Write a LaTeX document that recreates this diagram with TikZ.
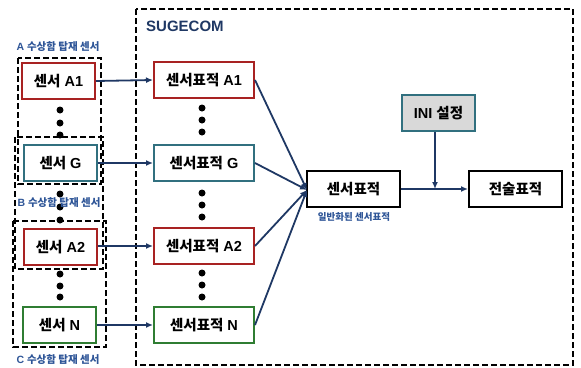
\documentclass[tikz,border=0pt]{standalone}
\usepackage{fontspec}
\setmainfont{Liberation Sans}
\newfontfamily\kr{Noto Sans CJK KR}[BoldFont={Noto Sans CJK KR Black}]
\usetikzlibrary{arrows.meta}
\definecolor{redline}{HTML}{A82222}
\definecolor{tealline}{HTML}{31707F}
\definecolor{greenline}{HTML}{2F7D32}
\definecolor{navy}{HTML}{1F3864}
\definecolor{labelblue}{HTML}{2E5597}
\definecolor{inifill}{HTML}{D9D9D9}
\begin{document}
\begin{tikzpicture}[x=1pt,y=-1pt,
  box/.style={draw, line width=2pt, fill=white, rectangle, inner sep=0pt,
    minimum height=36pt, font=\fontsize{14.5}{16}\selectfont\bfseries},
  sbox/.style={box, minimum width=73pt},
  tbox/.style={box, minimum width=100pt},
  wbox/.style={box, minimum width=93pt, draw=black},
  grp/.style={draw=black, line width=2pt, dash pattern=on 6pt off 3pt},
  conn/.style={draw=navy, line width=1.8pt, -{Latex[length=7pt,width=6pt]}},
  dot/.style={circle, fill=black, inner sep=0pt, minimum size=7pt},
  glabel/.style={text=labelblue, font=\fontsize{10.5}{12}\selectfont\bfseries, inner sep=0pt}
]
\useasboundingbox (0,0) rectangle (581,367);

% SUGECOM frame
\draw[grp] (136,9) rectangle (573,365);
\node[anchor=west, text=navy, font=\fontsize{15}{17}\selectfont\bfseries, inner sep=0pt] (title) at (146,26) {SUGECOM};

% sensor group frames
\draw[grp] (18,58) rectangle (101,184);
\draw[grp] (15,137) rectangle (103,269);
\draw[grp] (13,221) rectangle (106,347);

\node[glabel] (la) at (58,47) {A {\kr 수상함 탑재 센서}};
\node[glabel] (lc) at (58,360) {C {\kr 수상함 탑재 센서}};

% dots in the sensor column
\foreach \y in {110,123,135} \node[dot] at (60,\y) {};
\foreach \y in {194,207,220} \node[dot] at (60,\y) {};
\foreach \y in {274,286,297} \node[dot] at (60,\y) {};
\node[glabel] (lb) at (59,203) {B {\kr 수상함 탑재 센서}};

% sensors
\node[sbox, draw=redline]   (s1) at (58.5,81)  {{\kr 센서} A1};
\node[sbox, draw=tealline]  (sg) at (60.5,163) {{\kr 센서} G};
\node[sbox, draw=redline]   (s2) at (60.5,247) {{\kr 센서} A2};
\node[sbox, draw=greenline] (sn) at (59.5,325) {{\kr 센서} N};

% sensor tracks
\node[tbox, draw=redline]   (t1) at (204,80)  {{\kr 센서표적} A1};
\node[tbox, draw=tealline]  (tg) at (204,163) {{\kr 센서표적} G};
\node[tbox, draw=redline]   (t2) at (204,246) {{\kr 센서표적} A2};
\node[tbox, draw=greenline] (tn) at (204,325) {{\kr 센서표적} N};

\foreach \y in {108,120,132} \node[dot] at (202,\y) {};
\foreach \y in {193,205,217} \node[dot] at (202,\y) {};
\foreach \y in {273,285,297} \node[dot] at (202,\y) {};

% fusion chain
\node[wbox] (st) at (353.5,189) {\kr 센서표적};
\node[glabel, font=\kr\fontsize{9.5}{11}\selectfont\bfseries] (lgen) at (354,217) {일반화된 센서표적};
\node[box, minimum width=73pt, draw=tealline, fill=inifill] (ini) at (438.5,113) {INI {\kr 설정}};
\node[wbox] (tt) at (515.5,189) {\kr 전술표적};
\coordinate (join) at (435,189);

% connectors
\draw[conn] (s1.east) -- (t1.west);
\draw[conn] (sg.east) -- (tg.west);
\draw[conn] (s2.east |- t2.west) -- (t2.west);
\draw[conn] (sn.east) -- (tn.west);

\coordinate (meet) at (307,190);
\draw[conn] (t1.east) -- (meet);
\draw[conn] (tg.east) -- (meet);
\draw[conn] (t2.east) -- (meet);
\draw[conn] (tn.east) -- (meet);

\draw[conn] (st.east) -- (tt.west);
\draw[conn] (ini.south -| join) -- (join);
\end{tikzpicture}
\end{document}
